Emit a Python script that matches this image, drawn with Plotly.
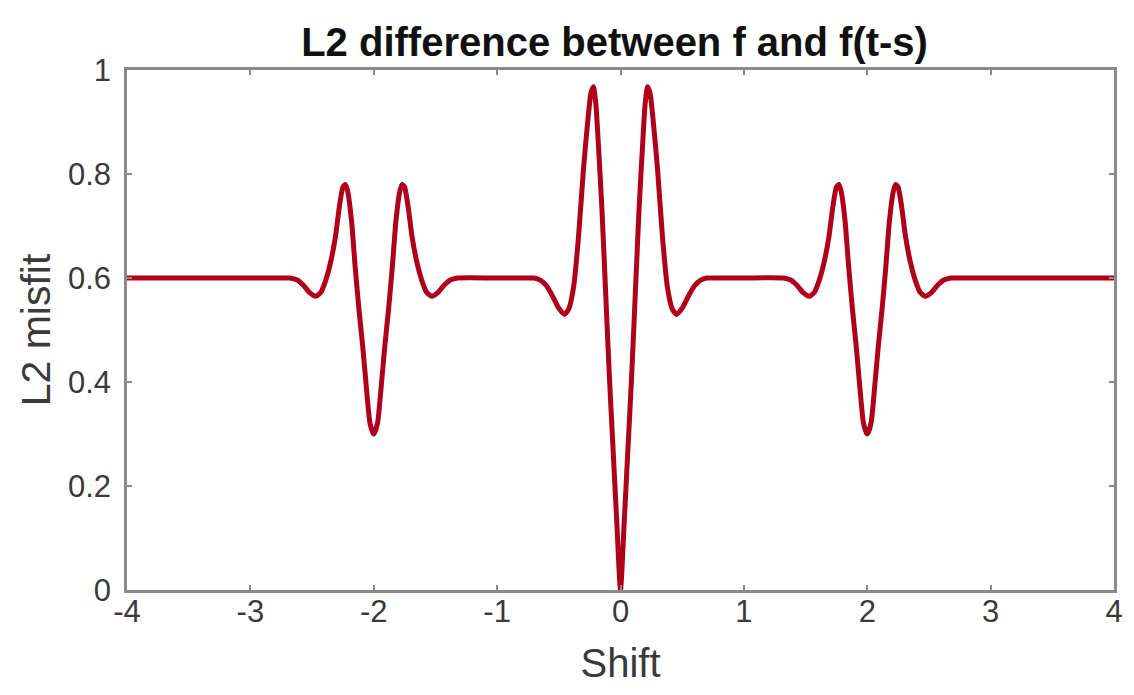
import plotly.graph_objects as go

# Shift values (s) and the L2 misfit between f(t) and f(t - s)
shift = [
    -4.00, -3.50, -3.00, -2.75,
    -2.68, -2.62, -2.57, -2.52, -2.47, -2.43, -2.39, -2.35, -2.31, -2.28,
    -2.25, -2.23, -2.21, -2.18, -2.15, -2.12, -2.09, -2.06, -2.03, -2.00,
    -1.97, -1.94, -1.91, -1.88, -1.85, -1.82, -1.79, -1.77, -1.75, -1.72,
    -1.69, -1.65, -1.61, -1.57, -1.53, -1.48, -1.43, -1.38, -1.32,
    -1.00, -0.75,
    -0.70, -0.65, -0.60, -0.55, -0.50, -0.455, -0.42, -0.38, -0.34, -0.30,
    -0.27, -0.24, -0.22, -0.20, -0.18, -0.15, -0.12, -0.09, -0.06, -0.03,
    0.00,
    0.03, 0.06, 0.09, 0.12, 0.15, 0.18, 0.20, 0.22, 0.24, 0.27,
    0.30, 0.34, 0.38, 0.42, 0.455, 0.50, 0.55, 0.60, 0.65, 0.70,
    0.75, 1.00,
    1.32, 1.38, 1.43, 1.48, 1.53, 1.57, 1.61, 1.65, 1.69, 1.72,
    1.75, 1.77, 1.79, 1.82, 1.85, 1.88, 1.91, 1.94, 1.97, 2.00,
    2.03, 2.06, 2.09, 2.12, 2.15, 2.18, 2.21, 2.23, 2.25, 2.28,
    2.31, 2.35, 2.39, 2.43, 2.47, 2.52, 2.57, 2.62, 2.68,
    2.75, 3.00, 3.50, 4.00,
]

misfit = [
    0.600, 0.600, 0.600, 0.600,
    0.600, 0.596, 0.586, 0.572, 0.565, 0.572, 0.595, 0.630, 0.680, 0.735,
    0.775, 0.780, 0.765, 0.710, 0.620, 0.540, 0.470, 0.390, 0.320, 0.300,
    0.320, 0.390, 0.470, 0.540, 0.620, 0.710, 0.765, 0.780, 0.775, 0.735,
    0.680, 0.630, 0.595, 0.572, 0.565, 0.572, 0.586, 0.596, 0.600,
    0.600, 0.600,
    0.600, 0.596, 0.585, 0.565, 0.542, 0.530, 0.540, 0.583, 0.680, 0.810,
    0.890, 0.955, 0.968, 0.935, 0.860, 0.730, 0.570, 0.410, 0.270, 0.130,
    0.000,
    0.130, 0.270, 0.410, 0.570, 0.730, 0.860, 0.935, 0.968, 0.955, 0.890,
    0.810, 0.680, 0.583, 0.540, 0.530, 0.542, 0.565, 0.585, 0.596, 0.600,
    0.600, 0.600,
    0.600, 0.596, 0.586, 0.572, 0.565, 0.572, 0.595, 0.630, 0.680, 0.735,
    0.775, 0.780, 0.765, 0.710, 0.620, 0.540, 0.470, 0.390, 0.320, 0.300,
    0.320, 0.390, 0.470, 0.540, 0.620, 0.710, 0.765, 0.780, 0.775, 0.735,
    0.680, 0.630, 0.595, 0.572, 0.565, 0.572, 0.586, 0.596, 0.600,
    0.600, 0.600, 0.600, 0.600,
]

x_ticks = [-4, -3, -2, -1, 0, 1, 2, 3, 4]
y_ticks = [0, 0.2, 0.4, 0.6, 0.8, 1]
y_tick_text = ["0", "0.2", "0.4", "0.6", "0.8", "1"]

FONT = "Liberation Sans, Arial, Helvetica, sans-serif"
AXIS_GREY = "#8a8a8a"
TEXT_GREY = "#3a3a3a"

fig = go.Figure(
    go.Scatter(
        x=shift,
        y=misfit,
        mode="lines",
        line=dict(color="#b0001b", width=5, shape="spline", smoothing=0.6),
        hoverinfo="skip",
    )
)

axis_common = dict(
    showgrid=False,
    zeroline=False,
    showline=True,
    linecolor=AXIS_GREY,
    linewidth=2.5,
    mirror="ticks",
    ticks="inside",
    ticklen=5,
    tickwidth=1.5,
    tickcolor=AXIS_GREY,
    tickfont=dict(family=FONT, size=31, color=TEXT_GREY),
)

fig.update_xaxes(
    range=[-4, 4],
    tickvals=x_ticks,
    ticktext=[str(t) for t in x_ticks],
    ticklabelstandoff=-8,
    title=dict(text="Shift", font=dict(family=FONT, size=40, color=TEXT_GREY), standoff=22),
    **axis_common,
)
fig.update_yaxes(
    range=[0, 1],
    tickvals=y_ticks,
    ticktext=y_tick_text,
    ticklabelstandoff=7,
    title=dict(text="L2 misfit", font=dict(family=FONT, size=41, color=TEXT_GREY), standoff=5),
    **axis_common,
)

fig.update_layout(
    width=1134,
    height=695,
    margin=dict(l=127, r=11, t=70, b=105),
    paper_bgcolor="white",
    plot_bgcolor="white",
    showlegend=False,
    title=dict(
        text="<b>L2 difference between f and f(t-s)</b>",
        font=dict(family=FONT, size=40, color="#111111"),
        x=0.494,
        xanchor="center",
        xref="paper",
        y=1 - 42 / 695,
        yanchor="middle",
    ),
)

fig.write_html("out.html")
